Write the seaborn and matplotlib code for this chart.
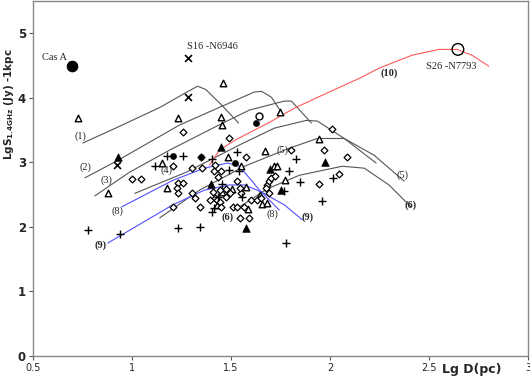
import matplotlib
matplotlib.use("Agg")
import matplotlib.pyplot as plt
import seaborn as sns
import pandas as pd

# points (Lg D, Lg S)
open_tri_x = [0.727, 0.878, 1.150, 1.175, 1.230, 1.447, 1.462, 1.457, 1.487, 1.674, 1.749, 1.946,
              1.553, 1.719, 1.734, 1.775, 1.578, 1.659, 1.684, 1.588, 1.427, 1.457, 1.503, 1.644]
open_tri_y = [3.68, 2.52, 2.99, 2.60, 3.68, 3.70, 4.23, 3.58, 3.08, 3.17, 3.78, 3.36,
              2.94, 2.94, 2.94, 2.72, 2.62, 2.35, 2.37, 2.28, 2.34, 2.54, 2.59, 2.49]

fill_tri_x = [0.928, 1.447, 1.397, 1.578, 1.699, 1.976, 1.754]
fill_tri_y = [3.08, 3.24, 2.66, 1.98, 2.89, 3.00, 2.57]

diamond_x = [0.999, 1.044, 1.205, 1.205, 1.256, 1.492, 1.578, 1.301, 1.356, 1.417, 1.412, 1.447,
             1.432, 1.528, 1.230, 1.256, 1.225, 1.230, 1.301, 1.407, 1.442, 1.477, 1.497, 1.417,
             1.392, 1.427, 1.442, 1.477, 1.553, 1.316, 1.341, 1.452, 1.508, 1.528, 1.568, 1.603,
             1.633, 1.654, 1.543, 1.593, 1.543, 1.684, 1.694, 1.704, 1.724, 1.679, 1.694, 1.805,
             1.971, 2.011, 2.087, 1.946, 2.047]
diamond_y = [2.74, 2.74, 2.94, 2.31, 3.47, 3.37, 3.08, 2.91, 2.91, 2.96, 2.86, 2.86,
             2.77, 2.71, 2.68, 2.68, 2.60, 2.52, 2.52, 2.54, 2.57, 2.59, 2.52, 2.45,
             2.41, 2.41, 2.38, 2.46, 2.52, 2.45, 2.31, 2.31, 2.31, 2.31, 2.31, 2.41,
             2.41, 2.45, 2.14, 2.14, 2.60, 2.65, 2.71, 2.76, 2.79, 2.60, 2.52, 3.19,
             3.19, 3.51, 3.08, 2.66, 2.82]

plus_x = [0.777, 0.938, 1.115, 1.175, 1.256, 1.402, 1.528, 1.492, 1.538, 1.457, 1.432, 1.402,
          1.412, 1.558, 1.230, 1.341, 1.830, 1.795, 1.850, 1.770, 1.961, 2.016, 1.780, 1.346]
plus_y = [1.95, 1.89, 2.94, 3.10, 3.10, 3.05, 3.16, 2.88, 2.86, 2.66, 2.46, 2.23,
          2.29, 2.46, 1.98, 2.00, 3.05, 2.86, 2.69, 2.55, 2.40, 2.76, 1.75, 3.08]

cross_x = [0.923, 1.281, 1.281]
cross_y = [2.96, 4.61, 4.02]

dot_x = [1.205, 1.346, 1.628, 1.518]
dot_y = [3.10, 3.08, 3.61, 2.99]

ring_x = [1.639]
ring_y = [3.72]

casa_x, casa_y = 0.696, 4.49
n7793_x, n7793_y = 2.646, 4.75

# evolutionary tracks
track_x = {
    "1": [0.752, 0.938, 1.140, 1.266, 1.331, 1.372, 1.452, 1.538],
    "2": [0.762, 0.928, 1.241, 1.492, 1.618, 1.654, 1.704, 1.749],
    "3": [0.812, 0.989, 1.190, 1.427, 1.593, 1.770, 1.805, 1.906],
    "4": [1.014, 1.276, 1.543, 1.719, 1.880, 1.936, 2.072, 2.233],
    "5": [1.140, 1.341, 1.568, 1.795, 1.936, 2.072, 2.223, 2.374],
    "6": [1.533, 1.684, 1.845, 2.062, 2.173, 2.298, 2.409],
}
track_y = {
    "1": [3.30, 3.56, 3.85, 4.07, 4.18, 4.13, 3.89, 3.61],
    "2": [2.76, 3.03, 3.58, 3.92, 4.09, 4.10, 4.01, 3.80],
    "3": [2.48, 2.85, 3.19, 3.56, 3.81, 3.95, 3.95, 3.61],
    "4": [2.52, 2.85, 3.27, 3.53, 3.65, 3.64, 3.37, 2.99],
    "5": [2.14, 2.57, 2.94, 3.22, 3.37, 3.37, 3.11, 2.71],
    "6": [2.29, 2.59, 2.80, 2.94, 2.91, 2.65, 2.31],
}
blue8_x = [0.948, 1.205, 1.366, 1.482, 1.543, 1.644, 1.744]
blue8_y = [2.31, 2.72, 2.91, 2.99, 2.94, 2.57, 2.26]
blue9_x = [0.878, 1.205, 1.366, 1.492, 1.568, 1.654, 1.770, 1.860]
blue9_y = [1.75, 2.34, 2.57, 2.65, 2.65, 2.54, 2.34, 2.11]
red10_x = [1.392, 1.442, 1.518, 1.694, 1.820, 1.996, 2.147, 2.248, 2.414, 2.550, 2.641, 2.717, 2.802]
red10_y = [2.96, 3.19, 3.34, 3.62, 3.84, 4.09, 4.30, 4.46, 4.66, 4.75, 4.75, 4.66, 4.49]

# curve labels
label_text = ["(1)", "(2)", "(3)", "(4)", "(5)", "(5)", "(6)", "(6)", "(8)", "(8)", "(9)", "(9)", "(10)"]
label_x = [0.742, 0.767, 0.873, 1.175, 1.759, 2.364, 1.482, 2.409, 0.928, 1.709, 0.843, 1.885, 2.298]
label_y = [3.41, 2.93, 2.72, 2.88, 3.19, 2.80, 2.15, 2.34, 2.24, 2.20, 1.72, 2.15, 4.38]

sns.set_style("white")
fig = plt.figure(figsize=(5.3, 3.76), dpi=100)
ax = fig.add_axes([33 / 530, 20 / 376, 495 / 530, 355 / 376])

for k in track_x:
    d = pd.DataFrame({"x": track_x[k], "y": track_y[k]})
    sns.lineplot(data=d, x="x", y="y", sort=False, color="#555555", lw=0.8, ax=ax)
for xs, ys, c in [(blue8_x, blue8_y, "#5050ff"), (blue9_x, blue9_y, "#5050ff"), (red10_x, red10_y, "#ff5a5a")]:
    d = pd.DataFrame({"x": xs, "y": ys})
    sns.lineplot(data=d, x="x", y="y", sort=False, color=c, lw=0.8, ax=ax)

sns.scatterplot(x=open_tri_x, y=open_tri_y, marker="^", s=22, facecolor="white", edgecolor="black", linewidth=1.0, ax=ax, zorder=3)
sns.scatterplot(x=fill_tri_x, y=fill_tri_y, marker="^", s=30, color="black", edgecolor="black", ax=ax, zorder=3)
sns.scatterplot(x=diamond_x, y=diamond_y, marker="D", s=12, facecolor="white", edgecolor="black", linewidth=0.9, ax=ax, zorder=3)
sns.scatterplot(x=plus_x, y=plus_y, marker="+", s=30, color="black", linewidth=1.0, ax=ax, zorder=3)
sns.scatterplot(x=cross_x, y=cross_y, marker="x", s=25, color="black", linewidth=1.2, ax=ax, zorder=3)
sns.scatterplot(x=dot_x, y=dot_y, marker="o", s=20, color="black", edgecolor="black", ax=ax, zorder=3)
sns.scatterplot(x=ring_x, y=ring_y, marker="o", s=25, facecolor="white", edgecolor="black", linewidth=1.0, ax=ax, zorder=3)
sns.scatterplot(x=[casa_x], y=[casa_y], marker="o", s=60, color="black", edgecolor="black", ax=ax, zorder=3)
sns.scatterplot(x=[n7793_x], y=[n7793_y], marker="o", s=70, facecolor="none", edgecolor="black", linewidth=1.0, ax=ax, zorder=3)

serif = "Liberation Serif"
for t, x, y in zip(label_text, label_x, label_y):
    ax.text(x, y, t, fontsize=7.5, family=serif, ha="center", va="center",
            fontweight="bold" if t in ("(6)", "(10)", "(9)") else "normal")
ax.text(0.611, 4.63, "Cas A", fontsize=7.5, family=serif, ha="center", va="center")
ax.text(1.407, 4.80, "S16 -N6946", fontsize=7.5, family=serif, ha="center", va="center")
ax.text(2.611, 4.49, "S26 -N7793", fontsize=7.5, family=serif, ha="center", va="center")

ax.set_xlim(0.5, 3.0)
ax.set_ylim(0, 5.5)
ax.set_xticks([0.5, 1, 1.5, 2, 2.5, 3])
ax.set_xticklabels(["0.5", "1", "1.5", "2", "2.5", "3"])
ax.set_yticks([0, 1, 2, 3, 4, 5])
ax.tick_params(axis="x", labelsize=7, length=3, width=0.8, color="#555555", pad=2, direction="out", bottom=True)
ax.tick_params(axis="y", labelsize=8.5, length=3, width=0.8, color="#555555", pad=2, direction="out", left=True)
for lab in ax.get_yticklabels():
    lab.set_fontweight("bold")
for sp in ax.spines.values():
    sp.set_color("#888888")
    sp.set_linewidth(1.0)
ax.set_xlabel("")
ax.set_ylabel(r"LgS$_{\mathbf{1.4GHz}}$ (Jy) -1kpc", fontsize=7.5, fontweight="bold")
ax.yaxis.set_label_coords(-0.034, 0.71)
fig.text(472 / 530, 1 - 369 / 376, "Lg D(pc)", fontsize=9, fontweight="bold", ha="center", va="center")

fig.savefig("out.png", dpi=100)
